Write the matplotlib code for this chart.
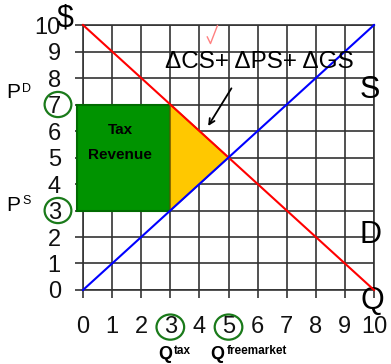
import numpy as np
import matplotlib.pyplot as plt
from matplotlib.patches import Rectangle, Polygon, Ellipse

plt.rcParams['font.family'] = ['Liberation Sans', 'DejaVu Sans']

# Market: linear supply and demand, per-unit tax of 4
quantity = [0, 10]
demand_price = [10, 0]
supply_price = [0, 10]
q_tax, q_free = 3, 5
p_buyer, p_seller, p_free = 7, 3, 5
ticks = list(range(11))

fig = plt.figure(figsize=(3.91, 3.64), dpi=100)
ax = fig.add_axes([0.2123, 0.2033, 0.7443, 0.728])
ax.set_xlim(0, 10)
ax.set_ylim(0, 10)

grid_col = '#333333'
ax.set_xticks(ticks)
ax.set_yticks(ticks)
ax.set_xticklabels([str(t) for t in ticks])
ax.set_yticklabels([str(t) for t in ticks])
ax.grid(True, color=grid_col, linewidth=1.2)
for sp in ax.spines.values():
    sp.set_color(grid_col)
    sp.set_linewidth(1.2)
ax.tick_params(axis='both', direction='out', length=6, width=1.2, color=grid_col,
               labelsize=17, labelcolor='#111111')
ax.tick_params(axis='x', pad=13)
ax.tick_params(axis='y', pad=10)
ax.set_axisbelow(True)

# tax revenue box and deadweight loss triangle
ax.add_patch(Rectangle((-0.2, p_seller), q_tax + 0.2, p_buyer - p_seller,
                       facecolor='#009300', edgecolor='#006b00', linewidth=1.5,
                       clip_on=False, zorder=3))
ax.add_patch(Polygon([[q_tax, p_seller], [q_tax, p_buyer], [q_free, p_free]],
                     closed=True, facecolor='#ffc800', edgecolor='#8a6d00',
                     linewidth=1, zorder=3))
ax.text(1.27, 6.05, 'Tax', ha='center', va='center', fontsize=11,
        fontweight='bold', zorder=4)
ax.text(1.27, 5.1, 'Revenue', ha='center', va='center', fontsize=11,
        fontweight='bold', zorder=4)

# demand and supply curves
ax.plot(quantity, demand_price, color='#ff0000', linewidth=1.5, zorder=5, clip_on=False)
ax.plot(quantity, supply_price, color='#0000ff', linewidth=1.5, zorder=5, clip_on=False)

# curve labels
ax.text(9.87, 7.55, 'S', fontsize=22, ha='center', va='center')
ax.text(9.87, 2.08, 'D', fontsize=22, ha='center', va='center')
ax.text(9.95, -0.4, 'Q', fontsize=22, ha='center', va='center', clip_on=False)
ax.text(-0.6, 10.25, '$', fontsize=22, ha='center', va='center', clip_on=False)

# welfare change label with arrow
ax.text(6.05, 8.6, 'ΔCS+ ΔPS+ ΔGS', fontsize=17.5, ha='center', va='center', zorder=6)
ax.annotate('', xy=(4.25, 6.1), xytext=(5.15, 7.7),
            arrowprops=dict(arrowstyle='->', color='black', lw=1.3), zorder=6)

# small red check mark
ax.plot([4.27, 4.38, 4.62], [9.55, 9.3, 9.98], color='#ff8080', linewidth=1,
        zorder=6, clip_on=False)

# price labels
ax.text(-2.4, 7.45, 'P', fontsize=15, ha='center', va='center', clip_on=False)
ax.text(-1.93, 7.6, 'D', fontsize=9, ha='center', va='center', clip_on=False)
ax.text(-2.4, 3.2, 'P', fontsize=15, ha='center', va='center', clip_on=False)
ax.text(-1.93, 3.35, 'S', fontsize=9, ha='center', va='center', clip_on=False)

# circled key values
circ = dict(fill=False, edgecolor='#1a7a1a', linewidth=1.6, clip_on=False, zorder=6)
ax.add_patch(Ellipse((-0.86, p_buyer), 0.92, 0.95, **circ))
ax.add_patch(Ellipse((-0.86, p_seller), 0.92, 0.95, **circ))
ax.add_patch(Ellipse((q_tax, -1.4), 0.95, 0.95, **circ))
ax.add_patch(Ellipse((q_free, -1.4), 0.95, 0.95, **circ))

# quantity labels
ax.text(2.82, -2.45, 'Q', fontsize=13, fontweight='bold', ha='center', va='center', clip_on=False)
ax.text(3.42, -2.3, 'tax', fontsize=8.5, fontweight='bold', ha='center', va='center', clip_on=False)
ax.text(4.6, -2.45, 'Q', fontsize=13, fontweight='bold', ha='center', va='center', clip_on=False)
ax.text(5.98, -2.3, 'freemarket', fontsize=8.5, fontweight='bold', ha='center', va='center', clip_on=False)

fig.savefig('out.png', dpi=100)
